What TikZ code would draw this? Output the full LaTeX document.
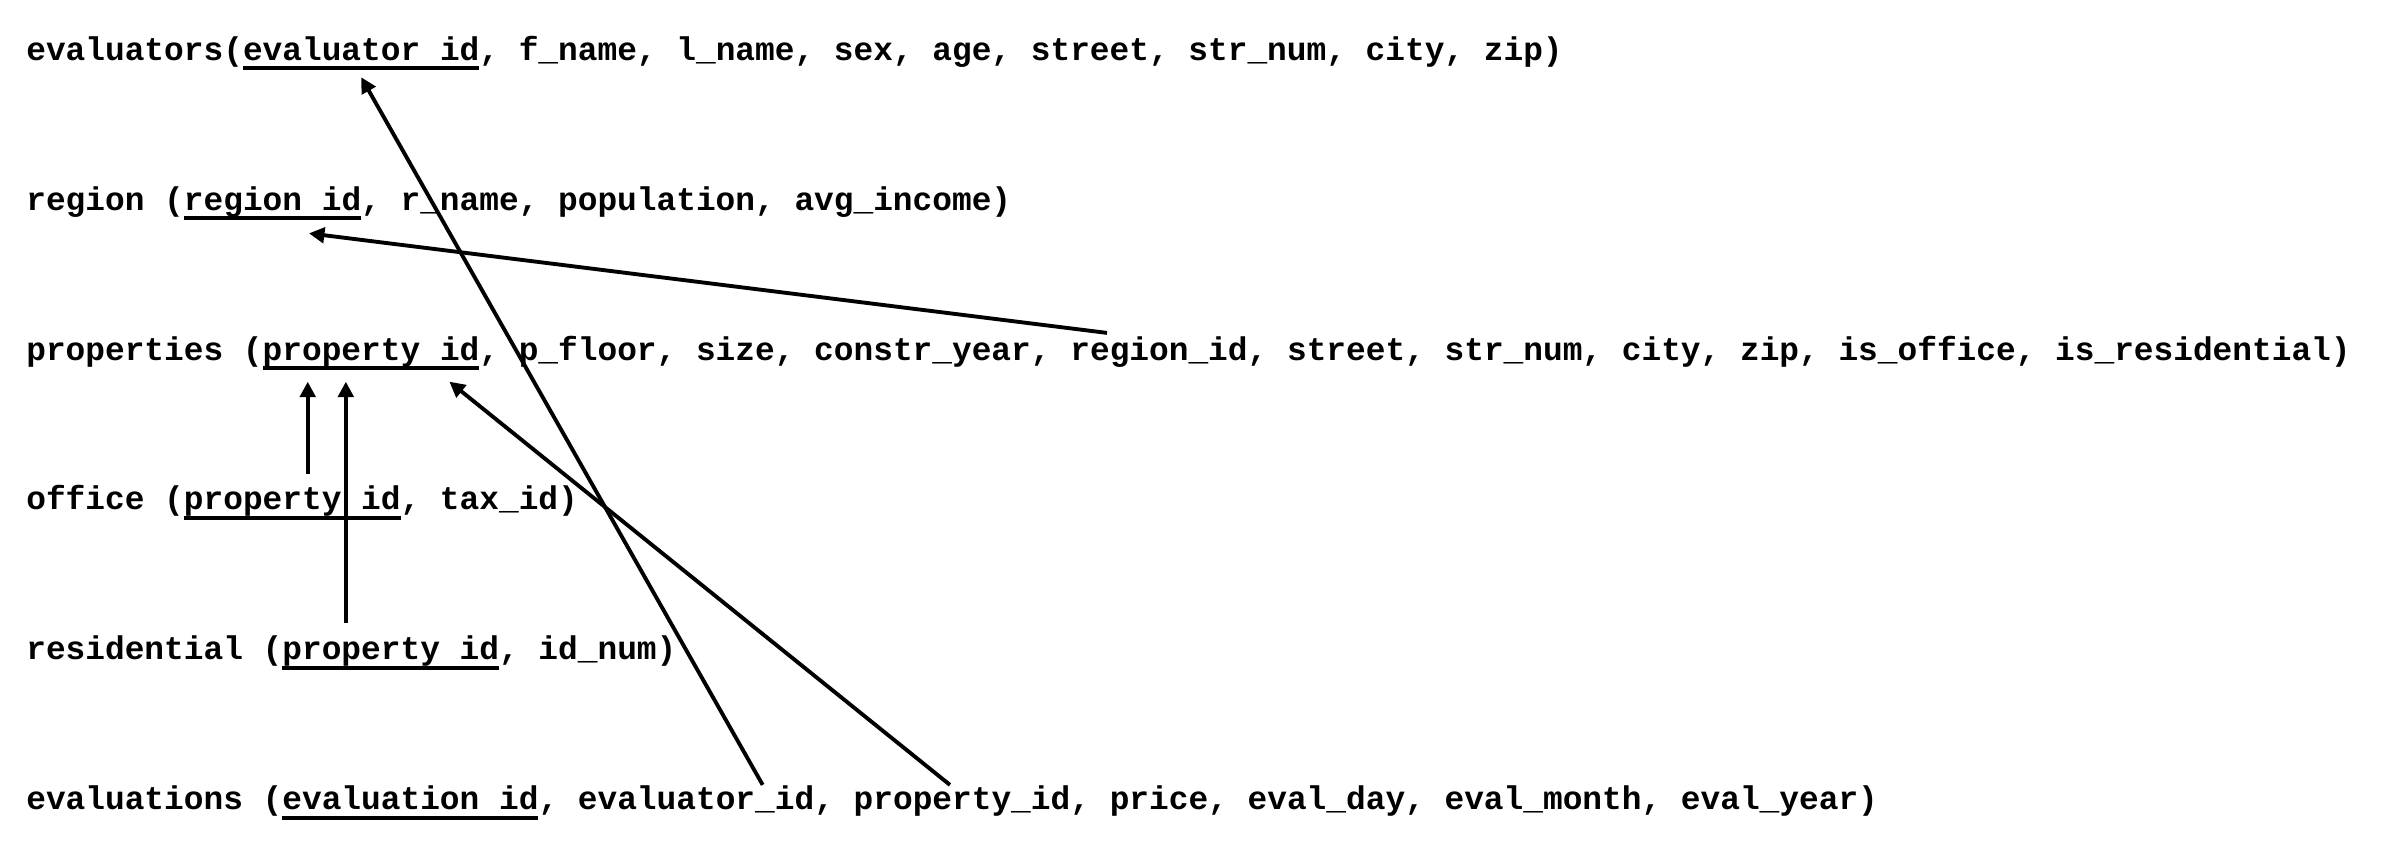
\documentclass[tikz,border=0pt]{standalone}
\usepackage{fontspec}
\usepackage{tikz}
\usetikzlibrary{positioning}
\usetikzlibrary{arrows.meta}
\newfontfamily\schemaFont{Liberation Mono}
\newcommand{\schemaText}{\schemaFont\bfseries\fontsize{10.6}{12}\selectfont}
% the underscore of a key sits on the key line
\newsavebox\usBox
\sbox\usBox{\schemaText\_}
\newlength\usDepth
\setlength\usDepth{\dp\usBox}
\newcommand{\keyUs}{\raisebox{\dimexpr\usDepth-3.2pt\relax}{\_}}
\tikzset{
  attr/.style={inner sep=0pt, outer sep=0pt, font=\schemaText},
  keyLine/.style={line width=1.2pt},
  fkArrow/.style={line width=1.25pt, -{Triangle[length=5pt,width=5pt]}}
}

\begin{document}
\begin{tikzpicture}[x=0.5pt, y=-0.5pt]
  \useasboundingbox (0,0) rectangle (1550,546);

  % relations
  \node[attr, anchor=base west] (evs) at (17,38.9) {evaluators(};
  \node[attr, base right=0pt of evs] (evsKey) {evaluator\keyUs id};
  \node[attr, base right=0pt of evsKey] (evsRest) {, f\_name, l\_name, sex, age, street, str\_num, city, zip)};

  \node[attr, anchor=base west] (reg) at (17,135.7) {region (};
  \node[attr, base right=0pt of reg] (regKey) {region\keyUs id};
  \node[attr, base right=0pt of regKey] (regRest) {, r\_name, population, avg\_income)};

  \node[attr, anchor=base west] (prp) at (17,232.5) {properties (};
  \node[attr, base right=0pt of prp] (prpKey) {property\keyUs id};
  \node[attr, base right=0pt of prpKey] (prpMid) {, p\_floor, size, constr\_year,\ \null};
  \node[attr, base right=0pt of prpMid] (prpReg) {region\_id};
  \node[attr, base right=0pt of prpReg] (prpRest) {, street, str\_num, city, zip, is\_office, is\_residential)};

  \node[attr, anchor=base west] (off) at (17,329.3) {office (};
  \node[attr, base right=0pt of off] (offKey) {property\keyUs id};
  \node[attr, base right=0pt of offKey] (offRest) {, tax\_id)};

  \node[attr, anchor=base west] (res) at (17,426.1) {residential (};
  \node[attr, base right=0pt of res] (resKey) {property\keyUs id};
  \node[attr, base right=0pt of resKey] (resRest) {, id\_num)};

  \node[attr, anchor=base west] (evn) at (17,522.9) {evaluations (};
  \node[attr, base right=0pt of evn] (evnKey) {evaluation\keyUs id};
  \node[attr, base right=0pt of evnKey] (evnSepA) {,\ \null};
  \node[attr, base right=0pt of evnSepA] (evnEvr) {evaluator\_id};
  \node[attr, base right=0pt of evnEvr] (evnSepB) {,\ \null};
  \node[attr, base right=0pt of evnSepB] (evnPrp) {property\_id};
  \node[attr, base right=0pt of evnPrp] (evnRest) {, price, eval\_day, eval\_month, eval\_year)};

  % keys
  \foreach \k in {evsKey, regKey, prpKey, offKey, resKey, evnKey}
    \draw[keyLine] ([yshift=-2.6pt]\k.base west) -- ([yshift=-2.6pt]\k.base east);

  % foreign keys
  \coordinate (prpFoot) at ([yshift=-7pt]prpKey.base);
  \coordinate (offUp) at ([xshift=5pt,yshift=11.75pt]offKey.base);
  \coordinate (resUp) at ([xshift=-14.5pt,yshift=12pt]resKey.base);
  \draw[fkArrow] (offUp) -- (offUp |- prpFoot);
  \draw[fkArrow] (resUp) -- (resUp |- prpFoot);
  \draw[fkArrow] ([xshift=-16.8pt,yshift=8.75pt]prpReg.base) -- ([xshift=11.75pt,yshift=-7.5pt]regKey.base);
  \draw[fkArrow] ([xshift=21.5pt,yshift=8pt]evnEvr.base) -- ([yshift=-5.5pt]evsKey.base);
  \draw[fkArrow] ([xshift=-3.9pt,yshift=8pt]evnPrp.base) -- ([xshift=25.3pt,yshift=-7pt]prpKey.base);
\end{tikzpicture}
\end{document}
